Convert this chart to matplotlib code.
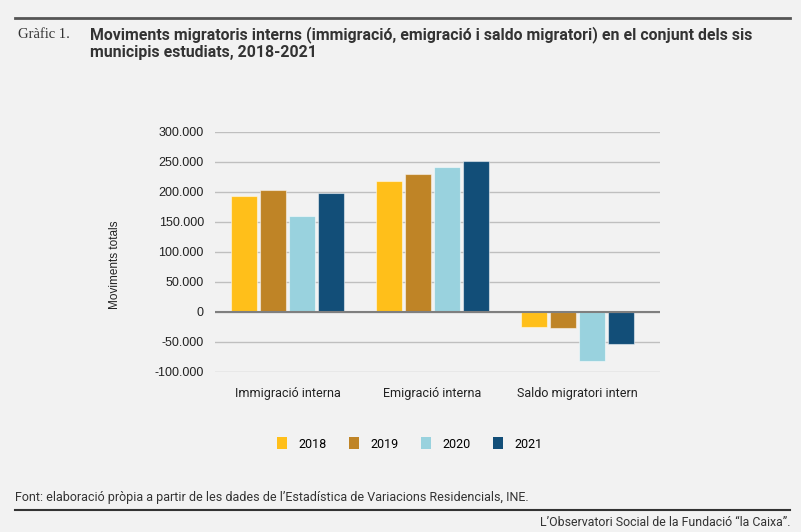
import matplotlib
matplotlib.use("Agg")
import matplotlib.pyplot as plt
import numpy as np
from matplotlib.ticker import FuncFormatter
from matplotlib.lines import Line2D
from matplotlib.patches import Patch

categories = ["Immigració interna", "Emigració interna", "Saldo migratori intern"]
years = ["2018", "2019", "2020", "2021"]
values = {
    "2018": [193000, 218000, -25500],
    "2019": [203000, 229500, -26000],
    "2020": [160000, 241000, -81000],
    "2021": [199000, 252000, -53500],
}
colors = ["#FFBF1A", "#BF8426", "#99D2DE", "#124E78"]
yticks = [-100000, -50000, 0, 50000, 100000, 150000, 200000, 250000, 300000]

bg = "#F2F2F2"
fig = plt.figure(figsize=(8.01, 5.32), dpi=100, facecolor=bg)
ax = fig.add_axes([215/801, 1-372/532, 445/801, 240/532])
ax.set_facecolor(bg)

x = np.arange(len(categories))
w = 0.18
pitch = 0.2
for i, yr in enumerate(years):
    ax.bar(x + (i - 1.5) * pitch, values[yr], width=w, color=colors[i],
           edgecolor="#FFFFFF80", linewidth=0.8, zorder=3, label=yr)

ax.set_xlim(-0.5, 2.57)
ax.set_ylim(-100000, 300000)
ax.set_yticks(yticks)
ax.yaxis.set_major_formatter(FuncFormatter(lambda v, p: f"{int(v):,}".replace(",", ".")))
ax.grid(axis="y", color="#BFBFBF", linewidth=1, zorder=0)
ax.axhline(0, color="#7F7F7F", linewidth=1.5, zorder=4)
for s in ax.spines.values():
    s.set_visible(False)
ax.tick_params(axis="both", length=0, labelsize=9, colors="#222222")
ax.tick_params(axis="y", pad=8)
ax.tick_params(axis="x", pad=11)
ax.set_xticks(x)
ax.set_xticklabels(categories, fontsize=9, family="Roboto")
for lbl in ax.get_yticklabels():
    lbl.set_family("Liberation Sans")

fig.text(115/801, 1-265/532, "Moviments totals", rotation=90, ha="center", va="center",
         fontsize=8.5, family="Liberation Sans", color="#222222")

handles = [Patch(facecolor=c, edgecolor="none") for c in colors]
fig.legend(handles, years, loc="center", bbox_to_anchor=(410/801, 1-444/532), ncol=4,
           frameon=False, handlelength=0.8, handleheight=1.1,
           columnspacing=1.8, handletextpad=0.9, prop={"family": "Roboto", "size": 9})

# header
fig.add_artist(Line2D([15/801, 790/801], [1-18/532, 1-18/532], color="#555555", linewidth=2))
fig.text(18/801, 1-35/532, "Gràfic 1.", family="Liberation Serif", fontsize=10.5,
         color="#333333", va="center", ha="left")
fig.text(90/801, 1-35/532, "Moviments migratoris interns (immigració, emigració i saldo migratori) en el conjunt dels sis",
         family="Roboto", fontweight="bold", fontsize=11.4, color="#333333", va="center", ha="left")
fig.text(90/801, 1-52/532, "municipis estudiats, 2018-2021",
         family="Roboto", fontweight="bold", fontsize=11.4, color="#333333", va="center", ha="left")

# footer
fig.text(15/801, 1-497/532, "Font: elaboració pròpia a partir de les dades de l\u2019Estadística de Variacions Residencials, INE.",
         family="Roboto", fontsize=9, color="#333333", va="center", ha="left")
fig.add_artist(Line2D([15/801, 790/801], [1-510/532, 1-510/532], color="#333333", linewidth=1.5))
fig.text(790/801, 1-522/532, "L\u2019Observatori Social de la Fundació \u201cla Caixa\u201d.",
         family="Roboto", fontsize=8.9, color="#333333", va="center", ha="right")

fig.savefig("out.png", dpi=100, facecolor=bg)
